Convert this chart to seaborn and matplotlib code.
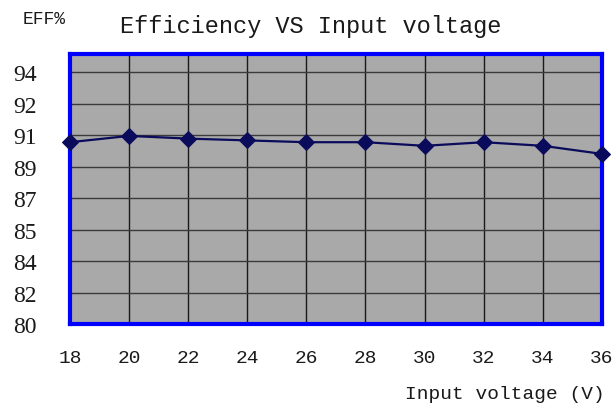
import numpy as np
import pandas as pd
import seaborn as sns
import matplotlib
matplotlib.use('Agg')
import matplotlib.pyplot as plt

# data
voltage = [18, 20, 22, 24, 26, 28, 30, 32, 34, 36]
efficiency = [90.1, 90.45, 90.3, 90.2, 90.1, 90.1, 89.9, 90.1, 89.9, 89.45]

# excel style axis: 80..95, major unit 1.75, labels rounded
y_min, y_max, y_step = 80, 95, 1.75
y_labels = ['80', '82', '84', '85', '87', '89', '91', '92', '94']
x_ticks = [18, 20, 22, 24, 26, 28, 30, 32, 34, 36]

df = pd.DataFrame({'voltage': voltage, 'efficiency': efficiency})

sns.set_style("white")
plt.rcParams['font.family'] = ['Liberation Mono', 'DejaVu Sans']

fig = plt.figure(figsize=(6.13, 4.06), dpi=100)
ax = fig.add_axes([0.114, 0.1995, 0.868, 0.665])
ax.set_facecolor('#a9a9a9')

# grid
yt = [y_min + i * y_step for i in range(len(y_labels))]
for v in x_ticks[1:-1]:
    ax.axvline(v, color='#1a1a1a', lw=1.0, zorder=1)
for v in yt[1:]:
    ax.axhline(v, color='#3a3a3a', lw=1.0, zorder=1)

sns.lineplot(data=df, x='voltage', y='efficiency', ax=ax, color='#0b0b5c',
             lw=1.6, marker='D', markersize=8, markeredgecolor='#0b0b5c',
             clip_on=False, zorder=5)

ax.set_xlim(18, 36)
ax.set_ylim(y_min, y_max)
ax.set_yticks(yt)
ax.set_yticklabels(y_labels, family='Liberation Serif', fontsize=17, color='#1a1a1a')
ax.set_xticks(x_ticks)
ax.set_xticklabels([str(v) for v in x_ticks], fontsize=14, color='#1a1a1a')
ax.tick_params(axis='y', direction='in', length=6, width=1, color='#333333', pad=24)
ax.tick_params(axis='x', direction='in', length=0, pad=18)

for s in ax.spines.values():
    s.set_color('#0000ff')
    s.set_linewidth(3)
    s.set_visible(True)
    s.set_zorder(4)

ax.set_xlabel('')
ax.set_ylabel('')

fig.text(311 / 613, 1 - 27 / 406, 'Efficiency VS Input voltage', ha='center', va='center',
         fontsize=17, color='#1a1a1a')
fig.text(23 / 613, 1 - 20 / 406, 'EFF%', ha='left', va='center', fontsize=13, color='#1a1a1a')
fig.text(605 / 613, 1 - 395 / 406, 'Input voltage (V)', ha='right', va='center',
         fontsize=14, color='#1a1a1a')

fig.savefig('out.png', dpi=100)
plt.close()
